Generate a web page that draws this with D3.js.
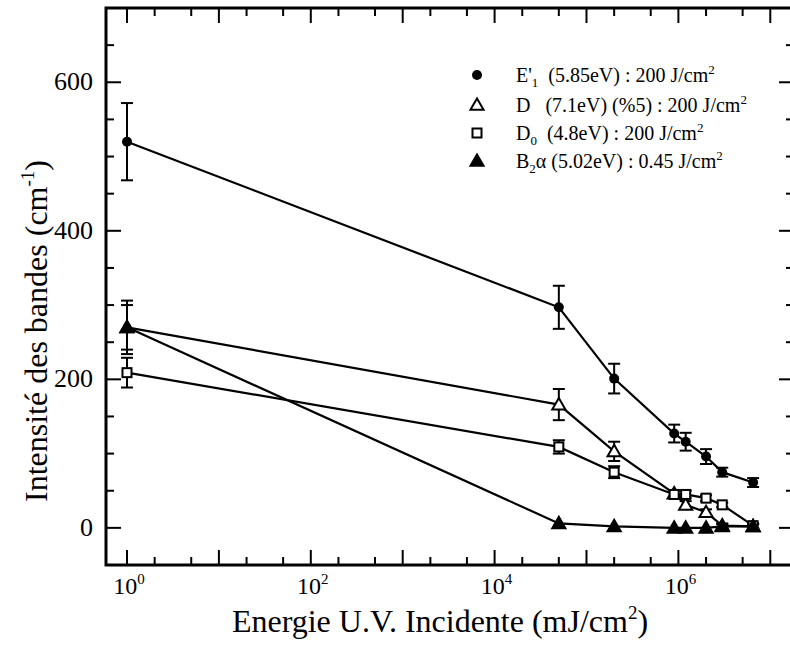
<!DOCTYPE html>
<html><head><meta charset="utf-8">
<script src="https://cdn.jsdelivr.net/npm/d3@7"></script>
<style>body{margin:0;background:#fff}svg{display:block}</style>
</head><body><svg id="c" width="790" height="651"></svg>
<script>
// ---- data ----
const energies = [1, 5e4, 2e5, 9e5, 1.2e6, 2e6, 3e6, 6.5e6];
const ePrimeValues = [520, 297, 201, 127, 116, 96, 75, 61];
const ePrimeErrors = [52, 29, 20, 12, 12, 10, 6, 6];
const dValues = [270, 166, 103, 46, 31, 21, 3, 2];
const dErrors = [36, 21, 13, 5, 5, 4, 3, 3];
const d0Values = [209, 109, 75, 45, 45, 40, 31, 3];
const d0Errors = [20, 9, 8, 5, 5, 4, 3, 3];
const b2Values = [270, 6, 2, 0, 0, 0, 2, 2];
const b2Errors = [30, 0, 0, 0, 0, 0, 3, 3];
const xLabelExponents = [0, 2, 4, 6];
const yTickLabels = [0, 200, 400, 600];

const series = [
  {values: ePrimeValues, errors: ePrimeErrors, marker: "circle",
   label: [["E'",0],["1",1],["  (5.85eV) : 200 J/cm",0],["2",2]]},
  {values: dValues, errors: dErrors, marker: "triOpen",
   label: [["D   (7.1eV) (%5) : 200 J/cm",0],["2",2]]},
  {values: d0Values, errors: d0Errors, marker: "squareOpen",
   label: [["D",0],["0",1],["  (4.8eV) : 200 J/cm",0],["2",2]]},
  {values: b2Values, errors: b2Errors, marker: "triFilled",
   label: [["B",0],["2",1],["α (5.02eV) : 0.45 J/cm",0],["2",2]]}
];

const svg = d3.select("#c");
const L = 106, T = 8, R = 794, B = 565;
const x = d3.scaleLog().domain([Math.pow(10,-0.2285), Math.pow(10,7.258)]).range([L, R]);
const y = d3.scaleLinear().domain([-50, 700]).range([B, T]);
const FONT = "'Liberation Serif','Times New Roman',serif";

// frame
svg.append("rect").attr("x", L).attr("y", T).attr("width", R-L).attr("height", B-T)
  .attr("fill","none").attr("stroke","#000").attr("stroke-width",3);

// x ticks (decades long, 2 and 5 short)
const xMajor = d3.range(0, 8).map(e => Math.pow(10, e));
const xMinor = [];
d3.range(0, 8).forEach(e => [2,5].forEach(m => { const v = m*Math.pow(10,e); if (x(v) < R-2) xMinor.push(v); }));
const tickG = svg.append("g").attr("stroke","#000").attr("stroke-width",2);
xMajor.forEach(v => {
  tickG.append("line").attr("x1",x(v)).attr("x2",x(v)).attr("y1",B).attr("y2",B-15);
  tickG.append("line").attr("x1",x(v)).attr("x2",x(v)).attr("y1",T).attr("y2",T+15);
});
xMinor.forEach(v => {
  tickG.append("line").attr("x1",x(v)).attr("x2",x(v)).attr("y1",B).attr("y2",B-8);
  tickG.append("line").attr("x1",x(v)).attr("x2",x(v)).attr("y1",T).attr("y2",T+8);
});
// y ticks every 50
d3.range(0, 700, 50).forEach(v => {
  const len = (v % 200 === 0) ? 15 : 8;
  tickG.append("line").attr("x1",L).attr("x2",L+len).attr("y1",y(v)).attr("y2",y(v));
  tickG.append("line").attr("x1",R).attr("x2",R-len).attr("y1",y(v)).attr("y2",y(v));
});

// tick labels
yTickLabels.forEach(v => {
  svg.append("text").attr("x", 93).attr("y", y(v)+8).attr("text-anchor","end")
    .attr("font-family",FONT).attr("font-size",26).text(v);
});
xLabelExponents.forEach(e => {
  const t = svg.append("text").attr("x", x(Math.pow(10,e)) + 2).attr("y", 594)
    .attr("text-anchor","middle").attr("font-family",FONT).attr("font-size",24);
  t.append("tspan").text("10");
  t.append("tspan").attr("dy",-10).attr("font-size",15).text(e);
});

// axis titles
const xt = svg.append("text").attr("x", 440).attr("y", 632).attr("text-anchor","middle")
  .attr("font-family",FONT).attr("font-size",32);
xt.append("tspan").text("Energie U.V. Incidente (mJ/cm");
xt.append("tspan").attr("dy",-13).attr("font-size",19).text("2");
xt.append("tspan").attr("dy",13).text(")");

const yt = svg.append("text").attr("transform","translate(47,331) rotate(-90)")
  .attr("text-anchor","middle").attr("font-family",FONT).attr("font-size",32);
yt.append("tspan").text("Intensité des bandes (cm");
yt.append("tspan").attr("dy",-13).attr("font-size",19).text("-1");
yt.append("tspan").attr("dy",13).text(")");

// markers
function drawMarker(g, type, cx, cy) {
  if (type === "circle") {
    g.append("circle").attr("cx",cx).attr("cy",cy).attr("r",5).attr("fill","#000");
  } else if (type === "triOpen" || type === "triFilled") {
    g.append("path").attr("d", d3.symbol(d3.symbolTriangle, 75)())
      .attr("transform",`translate(${cx},${cy+1})`)
      .attr("fill", type === "triFilled" ? "#000" : "#fff").attr("stroke","#000").attr("stroke-width",2);
  } else {
    g.append("rect").attr("x",cx-4.5).attr("y",cy-4.5).attr("width",9).attr("height",9)
      .attr("fill","#fff").attr("stroke","#000").attr("stroke-width",2);
  }
}

const line = d3.line().x(d => x(d[0])).y(d => y(d[1]));
series.forEach(s => {
  const pts = energies.map((e,i) => [e, s.values[i]]);
  svg.append("path").attr("d", line(pts)).attr("fill","none").attr("stroke","#000").attr("stroke-width",2.2);
});
series.forEach(s => {
  const g = svg.append("g");
  energies.forEach((e,i) => {
    const er = s.errors[i];
    if (er > 0) {
      const cx = x(e), y1 = y(s.values[i]+er), y2 = y(s.values[i]-er);
      g.append("line").attr("x1",cx).attr("x2",cx).attr("y1",y1).attr("y2",y2).attr("stroke","#000").attr("stroke-width",2);
      g.append("line").attr("x1",cx-6).attr("x2",cx+6).attr("y1",y1).attr("y2",y1).attr("stroke","#000").attr("stroke-width",2);
      g.append("line").attr("x1",cx-6).attr("x2",cx+6).attr("y1",y2).attr("y2",y2).attr("stroke","#000").attr("stroke-width",2);
    }
  });
});
series.forEach(s => {
  const g = svg.append("g");
  energies.forEach((e,i) => drawMarker(g, s.marker, x(e), y(s.values[i])));
});

// legend
const legRows = [75, 105, 133, 161];
series.forEach((s, k) => {
  const g = svg.append("g");
  drawMarker(g, s.marker, 477, legRows[k]);
  const t = svg.append("text").attr("x", 516).attr("y", legRows[k]+7)
    .attr("font-family",FONT).attr("font-size",20).style("white-space","pre");
  let prev = 0;
  s.label.forEach(([txt, kind]) => {
    const ts = t.append("tspan").text(txt);
    let dy = 0;
    if (prev === 1) dy -= 5;
    if (prev === 2) dy += 8;
    if (kind === 1) { dy += 5; ts.attr("font-size",13); }
    if (kind === 2) { dy -= 8; ts.attr("font-size",13); }
    ts.attr("dy", dy);
    prev = kind;
  });
});
</script></body></html>
